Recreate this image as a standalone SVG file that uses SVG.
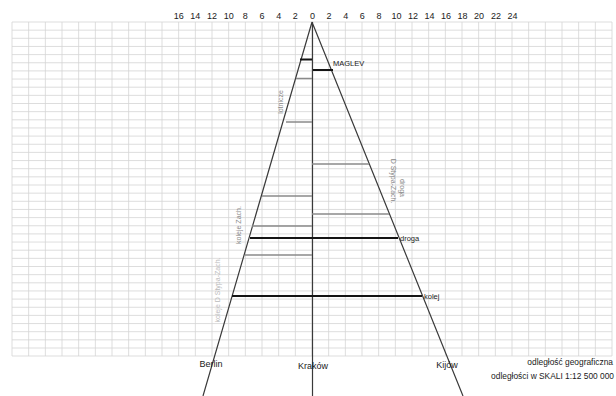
<svg xmlns="http://www.w3.org/2000/svg" width="616" height="396" viewBox="0 0 616 396">
<defs>
<style>
.grid{stroke:#d4d4d4;stroke-width:0.8;fill:none}
.axis{stroke:#3a3a3a;stroke-width:1.2;fill:none}
.blk{stroke:#141414;stroke-width:2;fill:none}
.gry{stroke:#8a8a8a;stroke-width:1.6;fill:none}
.num{font-family:"Liberation Sans",Arial,sans-serif;font-size:9px;fill:#222;text-anchor:middle}
.lbl{font-family:"Liberation Sans",Arial,sans-serif;font-size:7.5px;fill:#1a1a1a}
.leg{font-family:"Liberation Sans",Arial,sans-serif;font-size:8.4px;fill:#1a1a1a;text-anchor:end}
.city{font-family:"Liberation Sans",Arial,sans-serif;font-size:9px;fill:#1a1a1a;text-anchor:middle}
.rot{font-family:"Liberation Sans",Arial,sans-serif;font-size:7px;fill:#888;text-anchor:middle}
.rotl{font-family:"Liberation Sans",Arial,sans-serif;font-size:7px;fill:#bbb;text-anchor:middle}
</style>
</defs>
<rect width="616" height="396" fill="#fff"/>
<g id="grid" class="grid">
<path d="M12 22V356M28.67 22V356M45.33 22V356M62 22V356M78.67 22V356M95.33 22V356M112 22V356M128.67 22V356M145.33 22V356M162 22V356M178.67 22V356M195.33 22V356M212 22V356M228.67 22V356M245.33 22V356M262 22V356M278.67 22V356M295.33 22V356M312 22V356M328.67 22V356M345.33 22V356M362 22V356M378.67 22V356M395.33 22V356M412 22V356M428.67 22V356M445.33 22V356M462 22V356M478.67 22V356M495.33 22V356M512 22V356M528.67 22V356M545.33 22V356M562 22V356M578.67 22V356M595.33 22V356M612 22V356"/>
<path d="M12 22H612M12 30.15H612M12 38.3H612M12 46.45H612M12 54.6H612M12 62.75H612M12 70.9H612M12 79.05H612M12 87.2H612M12 95.35H612M12 103.5H612M12 111.65H612M12 119.8H612M12 127.95H612M12 136.1H612M12 144.25H612M12 152.4H612M12 160.55H612M12 168.7H612M12 176.85H612M12 185H612M12 193.15H612M12 201.3H612M12 209.45H612M12 217.6H612M12 225.75H612M12 233.9H612M12 242.05H612M12 250.2H612M12 258.35H612M12 266.5H612M12 274.65H612M12 282.8H612M12 290.95H612M12 299.1H612M12 307.25H612M12 315.4H612M12 323.55H612M12 331.7H612M12 339.85H612M12 348H612M12 356H612"/>
</g>
<g id="scale">
<text class="num" x="178.7" y="19">16</text>
<text class="num" x="195.3" y="19">14</text>
<text class="num" x="212" y="19">12</text>
<text class="num" x="228.7" y="19">10</text>
<text class="num" x="245.3" y="19">8</text>
<text class="num" x="262" y="19">6</text>
<text class="num" x="278.7" y="19">4</text>
<text class="num" x="295.3" y="19">2</text>
<text class="num" x="312.5" y="19">0</text>
<text class="num" x="329" y="19">2</text>
<text class="num" x="345.7" y="19">4</text>
<text class="num" x="362.3" y="19">6</text>
<text class="num" x="379" y="19">8</text>
<text class="num" x="396.5" y="19">10</text>
<text class="num" x="413" y="19">12</text>
<text class="num" x="429.5" y="19">14</text>
<text class="num" x="446" y="19">16</text>
<text class="num" x="462.5" y="19">18</text>
<text class="num" x="479" y="19">20</text>
<text class="num" x="496" y="19">22</text>
<text class="num" x="512.5" y="19">24</text>
</g>
<g id="connectors">
<path class="axis" d="M312 22L203 396M312 22L463 396M312.5 22V396"/>
<path class="gry" d="M296 78.5H312M286 122H312M262 196H312M252 226H312M245 255H312M312 164H369M312 214H389"/>
<path class="blk" d="M300 59.5H312M313 70H333M250 238H398M232 296H422"/>
</g>
<g id="lbl-maglev"><text class="lbl" x="333" y="65.5">MAGLEV</text></g>
<g id="lbl-droga"><text class="lbl" x="400" y="240.5">droga</text></g>
<g id="lbl-kolej"><text class="lbl" x="424" y="298.5">kolej</text></g>
<g id="lbl-lotnicze"><text class="rot" transform="translate(282.5 102) rotate(-90)">lotnicze</text></g>
<g id="lbl-koleje-zach"><text class="rot" transform="translate(240.5 225) rotate(-90)">koleje Zach.</text></g>
<g id="lbl-koleje-stypa"><text class="rotl" transform="translate(219.5 290) rotate(-90)">koleje D Stypa-Zach.</text></g>
<g id="lbl-droga-stypa"><text class="rot" transform="translate(400 188) rotate(90)">droga</text><text class="rot" transform="translate(391 181) rotate(90)">D Stypa-Zach.</text></g>
<g id="city-berlin"><text class="city" x="211" y="367">Berlin</text></g>
<g id="city-krakow"><text class="city" x="313" y="369">Kraków</text></g>
<g id="city-kijow"><text class="city" x="447" y="368">Kijów</text></g>
<g id="legend">
<text class="leg" x="613" y="365">odległość geograficzna</text>
<text class="leg" x="614" y="379">odległości w SKALI 1:12 500 000</text>
</g>
</svg>
